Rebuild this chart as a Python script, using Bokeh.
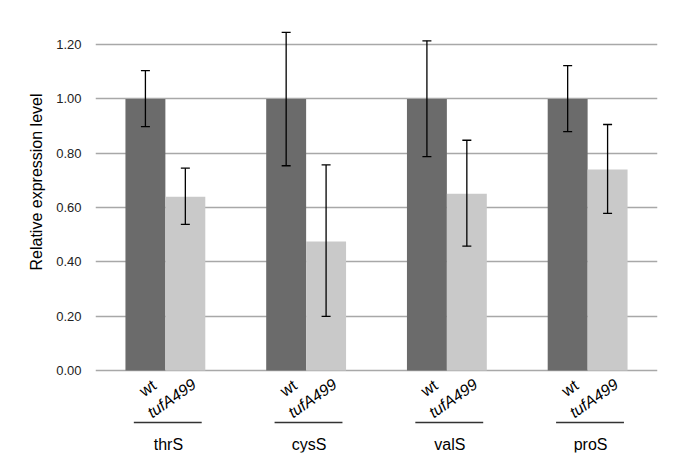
import math
from bokeh.plotting import figure
from bokeh.models import (ColumnDataSource, FactorRange, Range1d, FixedTicker,
                          Whisker, TeeHead, Title, CustomJSTickFormatter)
from bokeh.core.properties import value
from bokeh.embed import file_html
from bokeh.resources import INLINE

# ---------------- data ----------------
genes = ["thrS", "cysS", "valS", "proS"]
strains = ["wt", "tufA499"]
wt_values = [1.00, 1.00, 1.00, 1.00]
wt_lower = [0.898, 0.754, 0.788, 0.880]
wt_upper = [1.104, 1.245, 1.214, 1.123]
mut_values = [0.640, 0.475, 0.651, 0.740]
mut_lower = [0.538, 0.199, 0.458, 0.579]
mut_upper = [0.745, 0.757, 0.848, 0.906]
y_ticks = [0.0, 0.2, 0.4, 0.6, 0.8, 1.0, 1.2]
y_title = "Relative expression level"

DARK = "#6b6b6b"
LIGHT = "#c9c9c9"
GRID = "#a8a8a8"
FONT = "Liberation Sans"

factors = [(g, s) for g in genes for s in strains]
tops, lows, ups, colors = [], [], [], []
for i, g in enumerate(genes):
    tops += [wt_values[i], mut_values[i]]
    lows += [wt_lower[i], mut_lower[i]]
    ups += [wt_upper[i], mut_upper[i]]
    colors += [DARK, LIGHT]

src = ColumnDataSource(dict(x=factors, top=tops, lower=lows, upper=ups, color=colors))

x_range = FactorRange(*factors, group_padding=1.525, factor_padding=0.0,
                      range_padding=0.75, range_padding_units="absolute")

p = figure(width=661, height=455, x_range=x_range, y_range=Range1d(-0.302, 1.30),
           output_backend="svg", toolbar_location=None,
           min_border_left=95, min_border_right=4, min_border_top=17, min_border_bottom=3)
p.outline_line_color = None
p.background_fill_color = "white"
p.border_fill_color = "white"

# bars
p.vbar(x="x", top="top", width=1.0, source=src, fill_color="color", line_color=None)

# error bars
w = Whisker(source=src, base="x", upper="upper", lower="lower", level="overlay",
            line_color="black", line_width=1.3,
            upper_head=TeeHead(size=9, line_color="black", line_width=1.3),
            lower_head=TeeHead(size=9, line_color="black", line_width=1.3))
p.add_layout(w)

# axes
p.xaxis.visible = False
p.xgrid.visible = False
yax = p.yaxis[0]
yax.ticker = FixedTicker(ticks=y_ticks)
yax.formatter = CustomJSTickFormatter(code="return tick.toFixed(2);")
yax.axis_line_color = None
yax.major_tick_line_color = None
yax.minor_tick_line_color = None
yax.major_label_standoff = 8
yax.major_label_text_font = FONT
yax.major_label_text_font_size = "13px"
yax.major_label_text_color = "#222222"
p.ygrid.ticker = FixedTicker(ticks=y_ticks)
p.ygrid.grid_line_color = GRID
p.ygrid.grid_line_width = 1.6

# y title
ttl = Title(text=y_title, align="right", offset=76, standoff=17)
ttl.text_font = FONT
ttl.text_font_size = "16px"
ttl.text_font_style = "normal"
ttl.text_color = "black"
p.add_layout(ttl, "left")

# strain labels (rotated)
ang = math.radians(35)
wt_src = ColumnDataSource(dict(x=[(g, "wt") for g in genes], y=[0] * 4, t=["wt"] * 4))
mu_src = ColumnDataSource(dict(x=[(g, "tufA499") for g in genes], y=[0] * 4, t=["tufA499"] * 4))
p.text(x="x", y="y", text="t", source=wt_src, angle=ang, x_offset=4, y_offset=6,
       text_align="right", text_baseline="top", text_font=value(FONT),
       text_font_size="16px", text_color="black")
p.text(x="x", y="y", text="t", source=mu_src, angle=ang, x_offset=4, y_offset=5,
       text_align="right", text_baseline="top", text_font=value(FONT),
       text_font_style="italic", text_font_size="16px", text_color="black")

# group underline and names
seg_src = ColumnDataSource(dict(x0=[(g, -0.79) for g in genes], x1=[(g, 0.91) for g in genes],
                                y0=[-0.1915] * 4, y1=[-0.1915] * 4))
p.segment(x0="x0", y0="y0", x1="x1", y1="y1", source=seg_src, line_color="#333333", line_width=1.3)
grp_src = ColumnDataSource(dict(x=genes, y=[0] * 4, t=genes))
p.text(x="x", y="y", text="t", source=grp_src, x_offset=3, y_offset=74,
       text_align="center", text_baseline="middle", text_font=value(FONT),
       text_font_size="16px", text_color="black")

open("out.html", "w").write(file_html(p, INLINE))
